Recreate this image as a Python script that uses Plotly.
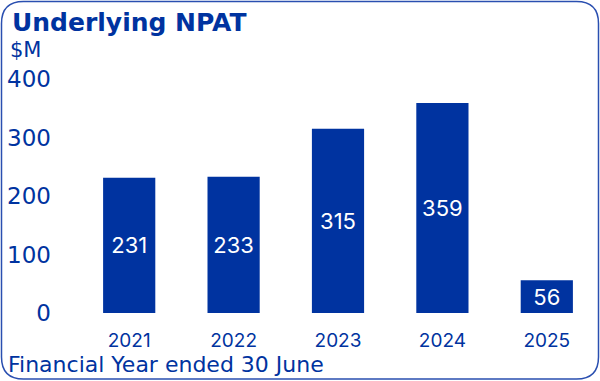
import plotly.graph_objects as go

years = ["2021", "2022", "2023", "2024", "2025"]
npat = [231, 233, 315, 359, 56]
yticks = [0, 100, 200, 300, 400]

W, H = 600, 381
L, R, T, B = 77, 1, 79, 68
pw, ph = W - L - R, H - T - B

def px(x):
    return (x - L) / pw

def py(y):
    return 1 - (y - T) / ph

blue = "#0033a0"
dv = "DejaVu Sans"
inter = "Inter"

fig = go.Figure(go.Bar(
    x=years, y=npat, marker=dict(color=blue, line=dict(width=0)),
    text=[str(v) for v in npat], textposition="inside", insidetextanchor="middle",
    textfont=dict(color="white", size=22, family=inter), width=0.5,
    cliponaxis=False,
))

# rounded border
x0, y0, x1, y1, r = 1.5, 1.5, 598.5, 379.0, 22
pts = [
    f"M {px(x0 + r)},{py(y0)}",
    f"L {px(x1 - r)},{py(y0)}",
    f"Q {px(x1)},{py(y0)} {px(x1)},{py(y0 + r)}",
    f"L {px(x1)},{py(y1 - r)}",
    f"Q {px(x1)},{py(y1)} {px(x1 - r)},{py(y1)}",
    f"L {px(x0 + r)},{py(y1)}",
    f"Q {px(x0)},{py(y1)} {px(x0)},{py(y1 - r)}",
    f"L {px(x0)},{py(y0 + r)}",
    f"Q {px(x0)},{py(y0)} {px(x0 + r)},{py(y0)}",
    "Z",
]
fig.add_shape(type="path", path=" ".join(pts), xref="paper", yref="paper",
              line=dict(color="#2a4fb0", width=1.5), layer="above")

fig.add_annotation(text="<b>Underlying NPAT</b>", xref="paper", yref="paper",
                   x=px(10), y=py(23), xanchor="left", yanchor="middle", showarrow=False,
                   font=dict(size=25, color=blue, family=dv))
fig.add_annotation(text="$M", xref="paper", yref="paper",
                   x=px(8), y=py(50), xanchor="left", yanchor="middle", showarrow=False,
                   font=dict(size=21, color=blue, family=dv))
fig.add_annotation(text="Financial Year ended 30 June", xref="paper", yref="paper",
                   x=px(6), y=py(364), xanchor="left", yanchor="middle", showarrow=False,
                   font=dict(size=22, color=blue, family=dv))

fig.update_layout(
    width=W, height=H, margin=dict(l=L, r=R, t=T, b=B),
    plot_bgcolor="white", paper_bgcolor="white", showlegend=False,
    xaxis=dict(range=[-0.5, 4.5], showgrid=False, showline=False, zeroline=False,
               ticks="", tickfont=dict(size=19, color=blue, family=inter),
               ticklabelstandoff=14),
    yaxis=dict(range=[0, 400], tickvals=yticks, showgrid=False, showline=False,
               zeroline=False, ticks="", tickfont=dict(size=23, color=blue, family=dv),
               ticklabelstandoff=25),
)

fig.write_html("out.html", config={"displayModeBar": False},
               post_script="document.body.style.margin='0';document.body.style.overflow='hidden';")
